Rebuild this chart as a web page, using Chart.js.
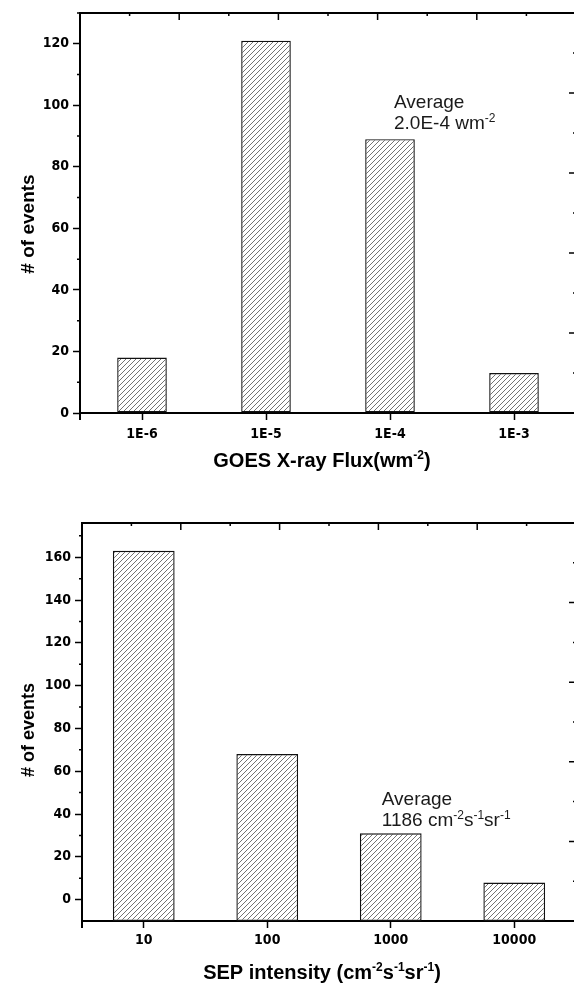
<!DOCTYPE html>
<html>
<head>
<meta charset="utf-8">
<script src="https://cdn.jsdelivr.net/npm/chart.js@4.4.1/dist/chart.umd.min.js"></script>
<style>
html, body { margin: 0; padding: 0; background: #fff; }
.panel { width: 574px; height: 492px; overflow: hidden; position: relative; }
.panel canvas { position: absolute; left: 0; top: 0; }
</style>
</head>
<body>
<div class="panel"><canvas id="goesChart" width="620" height="492"></canvas></div>
<div class="panel"><canvas id="sepChart" width="620" height="492"></canvas></div>
<script>
// GOES X-ray flux histogram
const goesLabels = ['1E-6', '1E-5', '1E-4', '1E-3'];
const goesCounts = [18, 121, 89, 13];
const goesYMin = 0;
const goesYMax = 130;

// SEP intensity histogram
const sepLabels = ['10', '100', '1000', '10000'];
const sepCounts = [163, 68, 31, 8];
const sepYMin = -10;
const sepYMax = 176;

const tickFamily = "'Liberation Sans Narrow', 'DejaVu Sans Condensed', 'Liberation Sans', sans-serif";
const textFamily = "'Liberation Sans', Arial, sans-serif";

function makeHatch() {
    const s = 5;
    const c = document.createElement('canvas');
    c.width = s; c.height = s;
    const g = c.getContext('2d');
    g.fillStyle = '#fff';
    g.fillRect(0, 0, s, s);
    g.strokeStyle = '#444';
    g.lineWidth = 0.75;
    g.beginPath();
    g.moveTo(-1, s + 1); g.lineTo(s + 1, -1);
    g.moveTo(-1, 1); g.lineTo(1, -1);
    g.moveTo(s - 1, s + 1); g.lineTo(s + 1, s - 1);
    g.stroke();
    return g.createPattern(c, 'repeat');
}

// text with superscripts: parts = [[text], [text, true], ...]
function drawRich(ctx, parts, x, y, size, weight, align) {
    const sup = Math.round(size * 0.62);
    const font = p => weight + ' ' + (p[1] ? sup : size) + 'px ' + textFamily;
    let total = 0;
    parts.forEach(p => { ctx.font = font(p); total += ctx.measureText(p[0]).width; });
    let cx = align === 'center' ? x - total / 2 : x;
    ctx.textAlign = 'left';
    ctx.textBaseline = 'alphabetic';
    parts.forEach(p => {
        ctx.font = font(p);
        ctx.fillText(p[0], cx, p[1] ? y - size * 0.4 : y);
        cx += ctx.measureText(p[0]).width;
    });
}

const framePlugin = {
    id: 'frame',
    afterDraw(chart, args, opts) {
        const ctx = chart.ctx;
        const a = chart.chartArea;
        const xs = chart.scales.x;
        const ys = chart.scales.y;
        ctx.save();
        ctx.strokeStyle = '#000';
        ctx.lineWidth = 2;
        ctx.beginPath();
        ctx.moveTo(a.left, a.top);
        ctx.lineTo(a.right, a.top);
        ctx.lineTo(a.right, a.bottom);
        ctx.moveTo(a.left, a.bottom);
        ctx.lineTo(a.left, a.bottom + 7);
        ctx.stroke();

        // inward ticks on top and right edges
        ctx.lineWidth = 1.5;
        ctx.beginPath();
        for (let k = 1; k < 10; k++) {
            const len = k % 2 === 0 ? 7 : 3;
            const x = a.left + (a.right - a.left) * k / 10;
            ctx.moveTo(x, a.top);
            ctx.lineTo(x, a.top + len);
            const y = a.top + (a.bottom - a.top) * k / 10;
            ctx.moveTo(a.right, y);
            ctx.lineTo(a.right - len, y);
        }
        // minor ticks on the left axis
        for (let v = Math.ceil(ys.min / 10) * 10; v <= ys.max; v += 10) {
            if (v <= ys.min || v % 20 === 0) continue;
            const y = ys.getPixelForValue(v);
            ctx.moveTo(a.left, y);
            ctx.lineTo(a.left - 3, y);
        }
        ctx.stroke();

        // axis titles
        ctx.fillStyle = '#000';
        drawRich(ctx, opts.xTitle, opts.xTitleX, opts.xTitleY, 20, 'bold', 'center');
        ctx.save();
        ctx.translate(27, (a.top + a.bottom) / 2 + opts.yTitleShift);
        ctx.rotate(-Math.PI / 2);
        drawRich(ctx, [['# of events']], 0, 7, opts.yTitleSize, 'bold', 'center');
        ctx.restore();

        // note
        ctx.fillStyle = '#1a1a1a';
        const nx = xs.getPixelForValue(opts.note.cat) + opts.note.dx;
        const ny = ys.getPixelForValue(opts.note.value);
        drawRich(ctx, [['Average']], nx, ny, 19, 'normal', 'left');
        drawRich(ctx, opts.note.line2, nx, ny + 21, 19, 'normal', 'left');
        ctx.restore();
    }
};

function buildChart(id, labels, data, yMin, yMax, opts) {
    const ctx = document.getElementById(id).getContext('2d');
    return new Chart(ctx, {
        type: 'bar',
        data: {
            labels: labels,
            datasets: [{
                data: data,
                backgroundColor: makeHatch(),
                borderColor: '#111',
                borderWidth: 1.4,
                borderSkipped: false,
                categoryPercentage: 1,
                barPercentage: opts.barPct
            }]
        },
        options: {
            responsive: false,
            animation: false,
            layout: { padding: { top: opts.top, right: 44, left: 0, bottom: 0 } },
            plugins: {
                legend: { display: false },
                tooltip: { enabled: false },
                frame: opts.frame
            },
            scales: {
                x: {
                    offset: true,
                    grid: { offset: false, drawOnChartArea: false, drawTicks: true, tickLength: 7, tickWidth: 1.5, tickColor: '#000' },
                    border: { display: true, color: '#000', width: 2 },
                    ticks: { color: '#000', padding: opts.xPad, font: { family: tickFamily, size: 14, weight: 'bold' }, maxRotation: 0 },
                    afterFit: s => { s.height = opts.xHeight; }
                },
                y: {
                    min: yMin,
                    max: yMax,
                    grid: { drawOnChartArea: false, drawTicks: true, tickLength: 7, tickWidth: 1.5, tickColor: '#000' },
                    border: { display: true, color: '#000', width: 2 },
                    ticks: { stepSize: 20, includeBounds: false, color: '#000', padding: 4, font: { family: tickFamily, size: 14, weight: 'bold' } },
                    afterFit: s => { s.width = opts.yWidth; }
                }
            }
        },
        plugins: [framePlugin]
    });
}

buildChart('goesChart', goesLabels, goesCounts, goesYMin, goesYMax, {
    barPct: 0.4, top: 13, xHeight: 79, yWidth: 80, xPad: 6,
    frame: {
        xTitle: [['GOES X-ray Flux(wm'], ['-2', true], [')']],
        xTitleX: 322, xTitleY: 467, yTitleShift: 11, yTitleSize: 19,
        note: { cat: 2, dx: 4, value: 99, line2: [['2.0E-4 wm'], ['-2', true]] }
    }
});

buildChart('sepChart', sepLabels, sepCounts.map(v => [sepYMin, v]), sepYMin, sepYMax, {
    barPct: 0.5, top: 31, xHeight: 63, yWidth: 82, xPad: 4,
    frame: {
        xTitle: [['SEP intensity (cm'], ['-2', true], ['s'], ['-1', true], ['sr'], ['-1', true], [')']],
        xTitleX: 322, xTitleY: 487, yTitleShift: 8, yTitleSize: 18,
        note: { cat: 2, dx: -9, value: 44, line2: [['1186 cm'], ['-2', true], ['s'], ['-1', true], ['sr'], ['-1', true]] }
    }
});
</script>
</body>
</html>
